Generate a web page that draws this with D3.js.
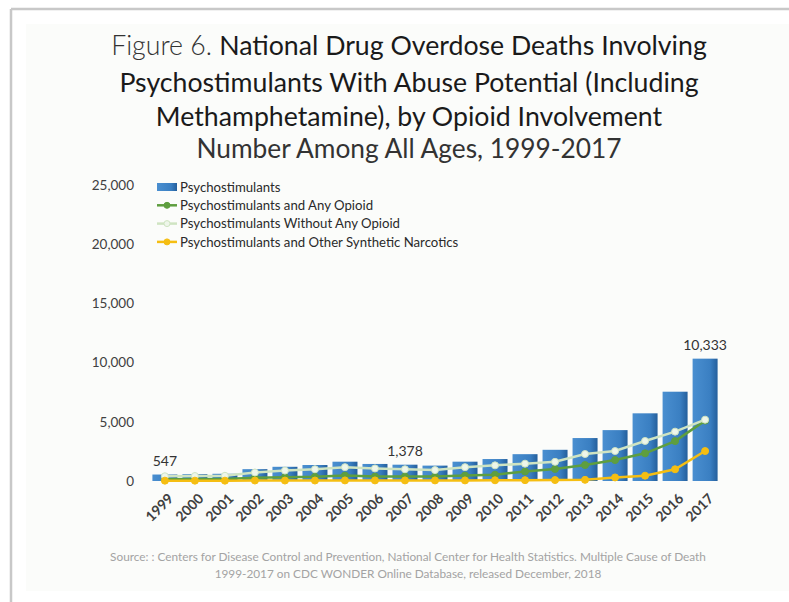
<!DOCTYPE html>
<html>
<head>
<meta charset="utf-8">
<script src="https://cdn.jsdelivr.net/npm/d3@7"></script>
<style>
  body { margin: 0; background: #fff; }
  svg { display: block; font-family: Lato, "Open Sans", sans-serif; }
</style>
</head>
<body>
<div id="chart"></div>
<script>
// data
var years = ["1999", "2000", "2001", "2002", "2003", "2004", "2005", "2006", "2007", "2008",
  "2009", "2010", "2011", "2012", "2013", "2014", "2015", "2016", "2017"];
var psychostimulants = [547, 578, 610, 1000, 1200, 1350, 1630, 1440, 1378, 1300,
  1632, 1854, 2266, 2635, 3627, 4298, 5716, 7542, 10333];
var withOpioid = [150, 160, 170, 280, 320, 360, 460, 380, 388, 380,
  462, 534, 800, 1015, 1347, 1768, 2336, 3372, 5100];
var withoutOpioid = [400, 420, 440, 720, 880, 990, 1170, 1060, 990, 920,
  1170, 1320, 1466, 1620, 2280, 2530, 3380, 4170, 5180];
var syntheticNarcotics = [30, 30, 30, 40, 40, 40, 50, 50, 50, 50,
  50, 60, 70, 80, 100, 300, 450, 990, 2530];
var yTicks = [0, 5000, 10000, 15000, 20000, 25000];
var labelled = ["1999", "2007", "2017"];

var width = 789, height = 602;

var svg = d3.select("#chart").append("svg")
  .attr("width", width)
  .attr("height", height);

// frame
svg.append("rect").attr("x", 26).attr("y", 24).attr("width", width - 26).attr("height", 567)
  .attr("fill", "#fbfcfa");
svg.append("line").attr("x1", 11).attr("x2", width).attr("y1", 9).attr("y2", 9)
  .attr("stroke", "#c8c8c8").attr("stroke-width", 2.5);
svg.append("line").attr("x1", 11).attr("x2", 11).attr("y1", 9).attr("y2", height)
  .attr("stroke", "#c8c8c8").attr("stroke-width", 2.5);

var defs = svg.append("defs");
var grad = defs.append("linearGradient").attr("id", "barGrad")
  .attr("x1", "0%").attr("y1", "0%").attr("x2", "100%").attr("y2", "0%");
grad.append("stop").attr("offset", "0%").attr("stop-color", "#4a8fd0");
grad.append("stop").attr("offset", "70%").attr("stop-color", "#3a7fc2");
grad.append("stop").attr("offset", "100%").attr("stop-color", "#245f9c");

// title
var title = svg.append("text").attr("text-anchor", "middle").attr("font-size", 26.7).attr("fill", "#1a1a1a");
var t1 = title.append("tspan").attr("x", 409).attr("y", 55);
t1.append("tspan").attr("font-weight", 300).attr("fill", "#333").text("Figure 6. ");
t1.append("tspan").text("National Drug Overdose Deaths Involving");
title.append("tspan").attr("x", 409).attr("y", 92).text("Psychostimulants With Abuse Potential (Including");
title.append("tspan").attr("x", 409).attr("y", 126).text("Methamphetamine), by Opioid Involvement");
svg.append("text").attr("x", 409).attr("y", 158).attr("text-anchor", "middle")
  .attr("font-size", 26.3).attr("fill", "#333")
  .text("Number Among All Ages, 1999-2017");

var x = d3.scaleBand().domain(years).range([150, 720]).paddingInner(0.167).paddingOuter(0.08);
var y = d3.scaleLinear().domain([0, 25000]).range([481, 185]);
var cx = function (d) { return x(d) + x.bandwidth() / 2; };

// y axis
var yAxis = svg.append("g").attr("transform", "translate(150,0)")
  .call(d3.axisLeft(y).tickValues(yTicks).tickSize(0).tickPadding(16).tickFormat(d3.format(",")));
yAxis.select(".domain").remove();
yAxis.selectAll("text").attr("font-family", "Lato, sans-serif").attr("font-size", 13.5)
  .attr("fill", "#404040");

// bars
svg.append("g").selectAll("rect")
  .data(years)
  .enter().append("rect")
  .attr("x", function (d) { return x(d); })
  .attr("width", x.bandwidth())
  .attr("y", function (d, i) { return y(psychostimulants[i]); })
  .attr("height", function (d, i) { return y(0) - y(psychostimulants[i]); })
  .attr("fill", "url(#barGrad)");

// x axis labels
var xAxis = svg.append("g").attr("transform", "translate(0,481)")
  .call(d3.axisBottom(x).tickSize(0));
xAxis.select(".domain").remove();
xAxis.selectAll("text")
  .attr("font-family", "Lato, sans-serif").attr("font-size", 14).attr("font-weight", 700)
  .attr("fill", "#404040")
  .attr("text-anchor", "end")
  .attr("x", 0).attr("y", 0).attr("dy", "0.35em")
  .attr("transform", "translate(6,15) rotate(-45)");

// lines
var series = [
  { name: "Psychostimulants and Any Opioid", values: withOpioid, color: "#5e9e3f", fill: "#5e9e3f" },
  { name: "Psychostimulants Without Any Opioid", values: withoutOpioid, color: "#cfe4c2", fill: "#eef6ea" },
  { name: "Psychostimulants and Other Synthetic Narcotics", values: syntheticNarcotics, color: "#f5be12", fill: "#f5be12" }
];

var line = d3.line()
  .x(function (d) { return cx(d.year); })
  .y(function (d) { return y(d.v); });

series.forEach(function (s) {
  var pts = years.map(function (yr, i) { return { year: yr, v: s.values[i] }; });
  svg.append("path").datum(pts)
    .attr("d", line)
    .attr("fill", "none")
    .attr("stroke", s.color)
    .attr("stroke-width", 2.5);
  svg.append("g").selectAll("circle")
    .data(pts).enter().append("circle")
    .attr("cx", function (d) { return cx(d.year); })
    .attr("cy", function (d) { return y(d.v); })
    .attr("r", 3.5)
    .attr("fill", s.fill)
    .attr("stroke", s.color)
    .attr("stroke-width", 1);
});

// data labels
svg.append("g").selectAll("text")
  .data(labelled).enter().append("text")
  .attr("x", function (d) { return cx(d); })
  .attr("y", function (d) { return y(psychostimulants[years.indexOf(d)]) - 9; })
  .attr("text-anchor", "middle")
  .attr("font-size", 14).attr("fill", "#333")
  .text(function (d) { return d3.format(",")(psychostimulants[years.indexOf(d)]); });

// legend
var legend = svg.append("g").attr("transform", "translate(157,187)");
var legendItems = [{ name: "Psychostimulants", bar: true }].concat(series);
legendItems.forEach(function (s, i) {
  var g = legend.append("g").attr("transform", "translate(0," + (i * 18.3) + ")");
  if (s.bar) {
    g.append("rect").attr("x", 0).attr("y", -4).attr("width", 20).attr("height", 8).attr("fill", "url(#barGrad)");
  } else {
    g.append("line").attr("x1", 0).attr("x2", 20).attr("y1", 0).attr("y2", 0)
      .attr("stroke", s.color).attr("stroke-width", 2.5);
    g.append("circle").attr("cx", 10).attr("cy", 0).attr("r", 3).attr("fill", s.fill)
      .attr("stroke", s.color);
  }
  g.append("text").attr("x", 23).attr("y", 0).attr("dy", "0.35em")
    .attr("font-size", 13.2).attr("fill", "#2a2a2a")
    .text(s.name);
});

// source
var src = svg.append("text").attr("text-anchor", "middle").attr("font-size", 11.8).attr("fill", "#a3a3a3");
src.append("tspan").attr("x", 408).attr("y", 561)
  .text("Source: : Centers for Disease Control and Prevention, National Center for Health Statistics. Multiple Cause of Death");
src.append("tspan").attr("x", 408).attr("y", 578)
  .text("1999-2017 on CDC WONDER Online Database, released December, 2018");
</script>
</body>
</html>
